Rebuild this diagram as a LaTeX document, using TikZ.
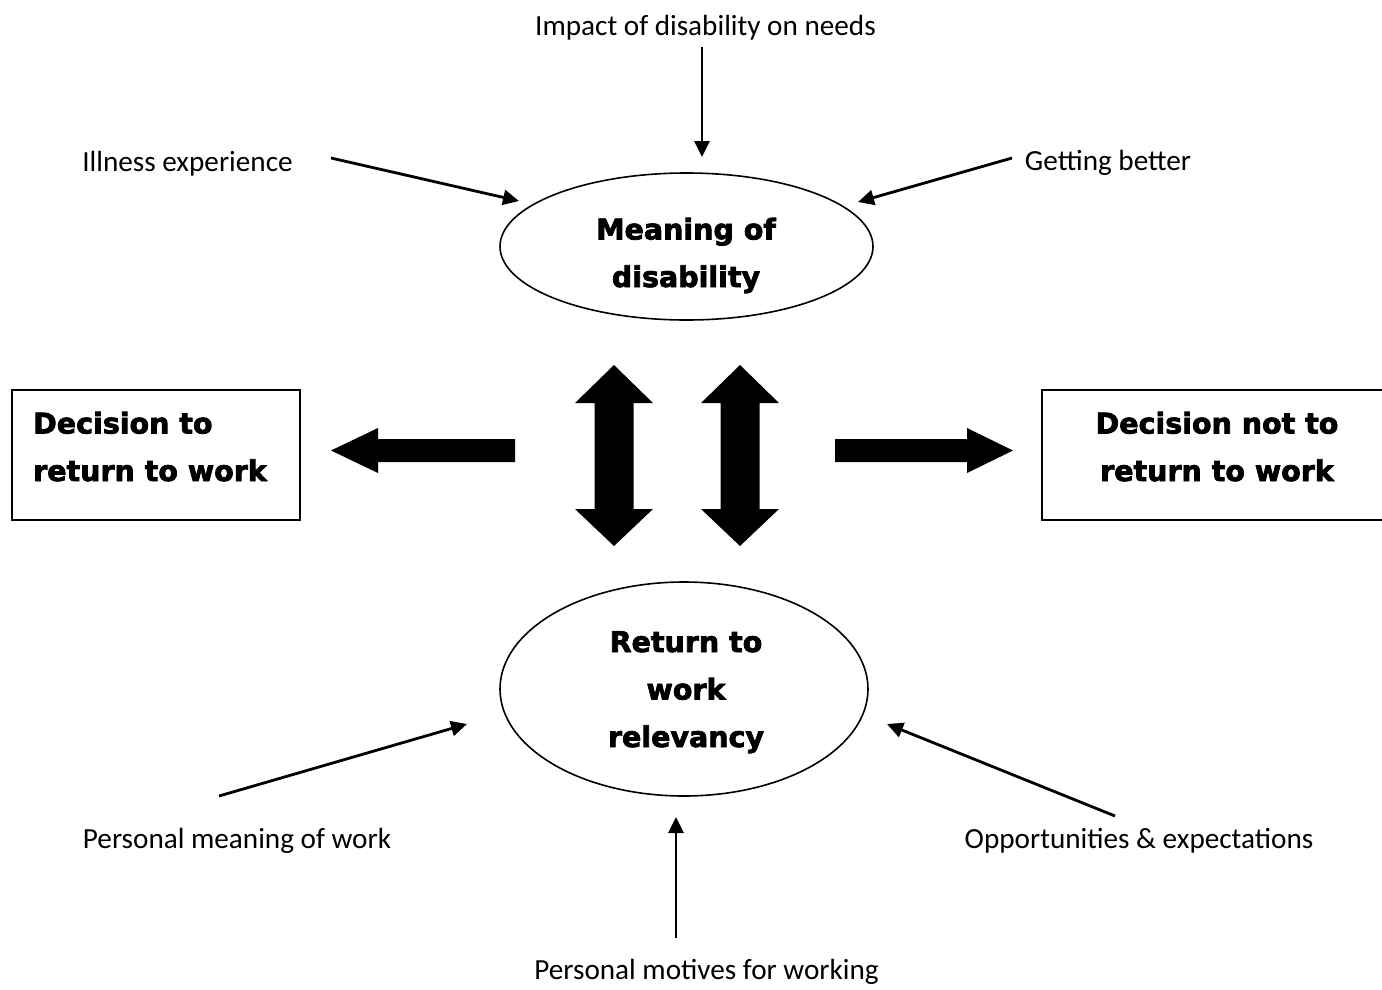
\documentclass[tikz,border=0pt]{standalone}
\usepackage{fontspec}
\setmainfont{Carlito}
\newfontfamily\heavyfont{DejaVu Sans Bold}[FakeBold=2.6]
\usetikzlibrary{shapes.geometric,arrows.meta}

\tikzset{
  x=1pt, y=-1pt,
  thin label/.style={font=\fontsize{29.2pt}{35pt}\selectfont, inner sep=0pt, anchor=base},
  heavy label/.style={font=\heavyfont\fontsize{28.5pt}{47.5pt}\selectfont, inner sep=0pt, anchor=base},
  bubble/.style={ellipse, draw, line width=1.6pt, inner sep=0pt},
  decision/.style={draw, line width=2pt, inner sep=0pt},
  feed/.style={line width=2.8pt, -{Triangle[length=16pt,width=15pt]}},
  block/.style={fill=black, draw=none},
}

\begin{document}
\begin{tikzpicture}
\useasboundingbox (0,0) rectangle (1382,989);
\clip (0,0) rectangle (1382,989);

% the two central concepts (text nodes sit on the baseline of their last line)
\node[bubble, minimum width=373pt, minimum height=147pt] (meaning) at (686.5,246.5) {};
\node[heavy label, align=center] (meaningtxt) at (686,287) {Meaning of\\disability};

\node[bubble, minimum width=368pt, minimum height=214pt] (relevancy) at (684,689) {};
\node[heavy label, align=center] (relevancytxt) at (686,747) {Return to\\work\\relevancy};

% the two outcomes
\node[decision, minimum width=288pt, minimum height=130pt] (yes) at (156,455) {};
\node[heavy label, align=left, anchor=base west] (yestxt) at (33,481) {Decision to\\return to work};

\node[decision, minimum width=360pt, minimum height=130pt] (no) at (1222,455) {};
\node[heavy label, align=center] (notxt) at (1217,481) {Decision not to\\return to work};

% influences on the meaning of disability
\node[thin label] (impact) at (705.5,35) {Impact of disability on needs};
\node[thin label] (illness) at (187.5,171) {Illness experience};
\node[thin label] (better) at (1108,170) {Getting better};

\coordinate (impactS) at (702,47);
\coordinate (impactE) at (702,157);
\coordinate (illnessS) at (331,158);
\coordinate (illnessE) at (519,201);
\coordinate (betterS) at (1012,158);
\coordinate (betterE) at (858,202);
\draw[feed] (impactS) -- (impactE);
\draw[feed] (illnessS) -- (illnessE);
\draw[feed] (betterS) -- (betterE);

% influences on return to work relevancy
\node[thin label] (personal) at (237,848) {Personal meaning of work};
\node[thin label] (motives) at (706.5,979) {Personal motives for working};
\node[thin label] (opport) at (1139,848) {Opportunities \& expectations};

\coordinate (personalS) at (219,796);
\coordinate (personalE) at (467,724);
\coordinate (motivesS) at (676,938);
\coordinate (motivesE) at (676,817);
\coordinate (opportS) at (1115,816);
\coordinate (opportE) at (887,724);
\draw[feed] (personalS) -- (personalE);
\draw[feed] (motivesS) -- (motivesE);
\draw[feed] (opportS) -- (opportE);

% block arrows towards the decisions
\fill[block] (331,450.5) -- (378,428) -- (378,439) -- (515,439) -- (515,462)
  -- (378,462) -- (378,473) -- cycle;
\fill[block] (1013,450.5) -- (967,428) -- (967,439) -- (835,439) -- (835,462)
  -- (967,462) -- (967,473) -- cycle;

% two-way block arrows between the concepts
\foreach \cx in {614,740}{
  \fill[block] (\cx,365) -- (\cx+39,403) -- (\cx+19.5,403) -- (\cx+19.5,509)
    -- (\cx+39,509) -- (\cx,546) -- (\cx-39,509) -- (\cx-19.5,509)
    -- (\cx-19.5,403) -- (\cx-39,403) -- cycle;
}
\end{tikzpicture}
\end{document}
